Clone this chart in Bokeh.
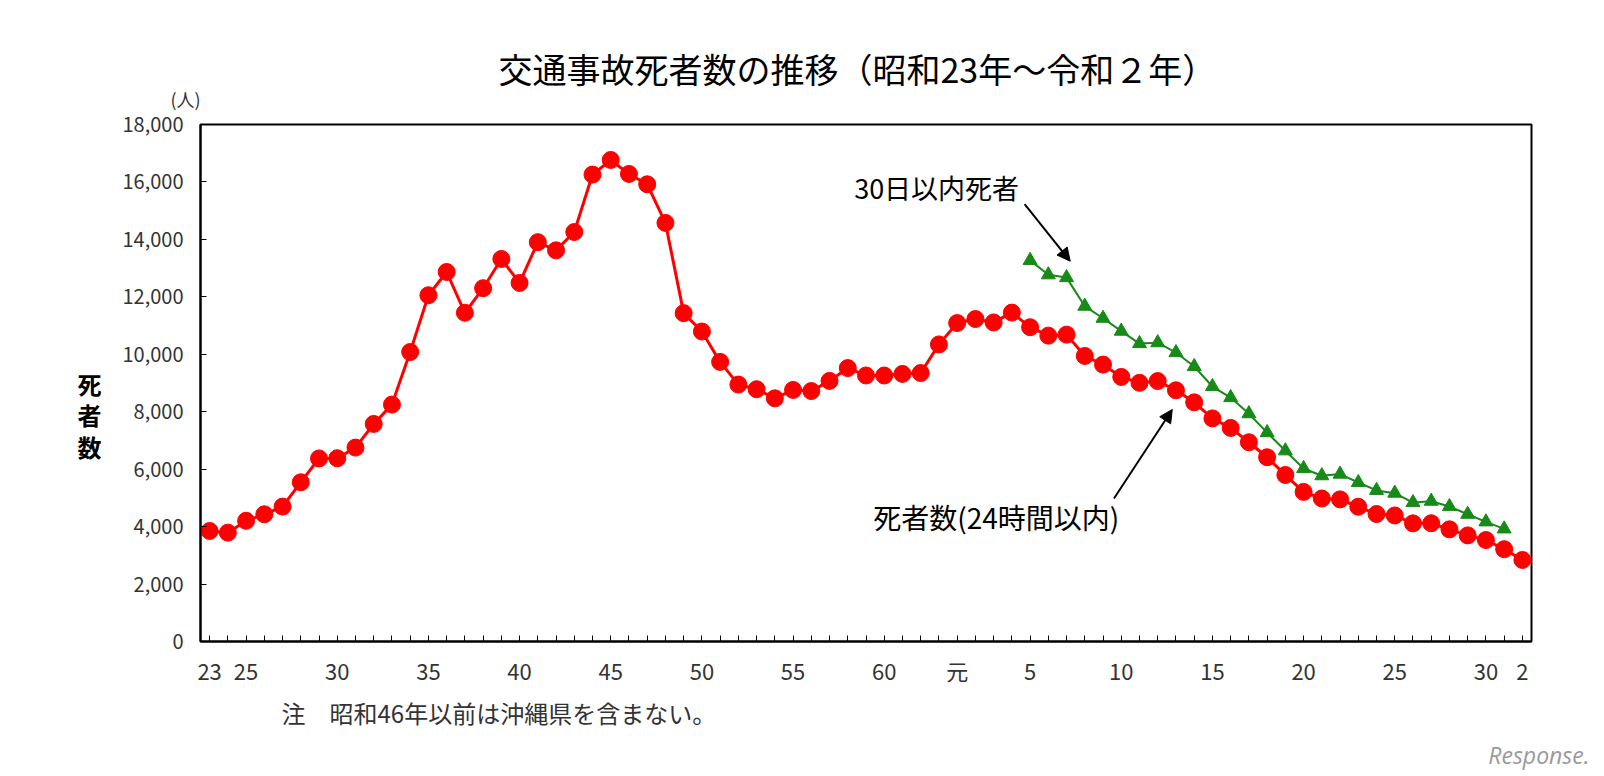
from bokeh.plotting import figure
from bokeh.models import (Range1d, FixedTicker, Label, Arrow, NormalHead, ColumnDataSource, Title)
from bokeh.embed import file_html
from bokeh.resources import INLINE

# Years: Showa 23 (1948) .. Reiwa 2 (2020)
years = list(range(1948, 2021))
deaths_24h = [3848, 3790, 4202, 4429, 4696, 5544, 6374, 6379, 6751, 7575,
              8248, 10079, 12055, 12865, 11445, 12301, 13318, 12484, 13904, 13618,
              14256, 16257, 16765, 16278, 15918, 14574, 11432, 10792, 9734, 8945,
              8783, 8466, 8760, 8719, 9073, 9520, 9262, 9261, 9317, 9347,
              10344, 11086, 11227, 11109, 11451, 10942, 10649, 10684, 9942, 9640,
              9211, 9006, 9066, 8747, 8326, 7768, 7436, 6937, 6415, 5796,
              5209, 4979, 4948, 4691, 4438, 4388, 4113, 4117, 3904, 3694,
              3532, 3215, 2839]
years_30d = list(range(1993, 2020))
deaths_30d = [13269, 12768, 12670, 11674, 11254, 10805, 10372, 10403, 10060, 9575,
              8877, 8492, 7931, 7272, 6639, 6023, 5772, 5828, 5535, 5261,
              5165, 4838, 4885, 4698, 4431, 4166, 3920]

tick_labels = {1948: "23", 1950: "25", 1955: "30", 1960: "35", 1965: "40",
               1970: "45", 1975: "50", 1980: "55", 1985: "60", 1989: "元",
               1993: "5", 1998: "10", 2003: "15", 2008: "20", 2013: "25",
               2018: "30", 2020: "2"}
y_ticks = list(range(0, 18001, 2000))

title_text = "交通事故死者数の推移（昭和23年～令和２年）"
unit_text = "(人)"
y_title = "死者数"
note_text = "注　昭和46年以前は沖縄県を含まない。"
credit_text = "Response."

FONT = "Noto Sans CJK JP"

W, H = 1600, 776
p = figure(width=W, height=H, output_backend="svg", toolbar_location=None,
           x_range=Range1d(1947.5, 2020.5), y_range=Range1d(0, 18000),
           min_border_left=200, min_border_right=W - 1531, min_border_top=124,
           min_border_bottom=H - 641)
p.xgrid.visible = False
p.ygrid.visible = False
p.outline_line_color = "black"
p.outline_line_width = 2
p.background_fill_color = "white"
p.border_fill_color = "white"

# main title (outermost) and the unit label "(人)" (closest to the frame)
p.title.text = title_text
p.title.text_font = FONT
p.title.text_font_size = "34px"
p.title.text_font_style = "normal"
p.title.text_color = "black"
p.title.align = "left"
p.title.offset = 298
p.title.standoff = -44

p.add_layout(Title(text=unit_text, text_font=FONT, text_font_size="18px",
                   text_font_style="normal", text_color="#333333", align="left",
                   offset=-30, standoff=26), "above")

# axes
p.xaxis.ticker = FixedTicker(ticks=years)
p.xaxis.major_label_overrides = {y: tick_labels.get(y, "") for y in years}
p.xaxis.major_tick_in = 6
p.xaxis.major_tick_out = 0
p.xaxis.minor_tick_line_color = None
p.xaxis.axis_line_width = 2
p.xaxis.axis_line_color = "black"
p.xaxis.major_tick_line_color = "black"
p.xaxis.major_label_text_font = FONT
p.xaxis.major_label_text_font_size = "22px"
p.xaxis.major_label_text_color = "#333333"
p.xaxis.major_label_standoff = 12

p.yaxis.ticker = FixedTicker(ticks=y_ticks)
p.yaxis.major_label_overrides = {v: f"{v:,}" for v in y_ticks}
p.yaxis.major_tick_in = 6
p.yaxis.major_tick_out = 0
p.yaxis.minor_tick_line_color = None
p.yaxis.axis_line_width = 2
p.yaxis.axis_line_color = "black"
p.yaxis.major_tick_line_color = "black"
p.yaxis.major_label_text_font = FONT
p.yaxis.major_label_text_font_size = "20px"
p.yaxis.major_label_text_color = "#333333"
p.yaxis.major_label_standoff = 17

p.yaxis.axis_label = "\n\n" + "\n".join(y_title)
p.yaxis.axis_label_orientation = "horizontal"
p.yaxis.axis_label_text_font = FONT
p.yaxis.axis_label_text_font_size = "24px"
p.yaxis.axis_label_text_font_style = "bold"
p.yaxis.axis_label_text_color = "black"
p.yaxis.axis_label_text_line_height = 0.91
p.yaxis.axis_label_standoff = 18

# footnote and credit below the x axis
p.add_layout(Title(text=note_text, text_font=FONT, text_font_size="24px",
                   text_font_style="normal", text_color="#333333", align="left",
                   offset=81, standoff=9), "below")
p.add_layout(Title(text=credit_text, text_font="Open Sans", text_font_size="23px",
                   text_font_style="italic", text_color="#9a9a9a", align="right",
                   offset=-58, standoff=4), "below")

# series
red = ColumnDataSource(dict(x=years, y=deaths_24h))
green = ColumnDataSource(dict(x=years_30d, y=deaths_30d))
p.line("x", "y", source=red, line_color="#ff0000", line_width=3)
p.scatter("x", "y", source=red, marker="circle", size=17, fill_color="#ff0000",
          line_color="#ff0000")
p.line("x", "y", source=green, line_color="#178a17", line_width=2)
p.scatter("x", "y", source=green, marker="triangle", size=14, fill_color="#178a17",
          line_color="#178a17")

# in-plot annotations
p.add_layout(Label(x=1983.35, y=15800, text="30日以内死者", text_font=FONT,
                   text_font_size="27px", text_align="left", text_baseline="middle",
                   text_color="black"))
p.add_layout(Label(x=1984.4, y=4340, text="死者数(24時間以内)", text_font=FONT,
                   text_font_size="28px", text_align="left", text_baseline="middle",
                   text_color="black"))
p.add_layout(Arrow(x_start=1992.7, y_start=15230, x_end=1995.2, y_end=13240,
                   line_width=2, line_color="black",
                   end=NormalHead(size=13, fill_color="black", line_color="black")))
p.add_layout(Arrow(x_start=1997.6, y_start=4980, x_end=2000.8, y_end=8080,
                   line_width=2, line_color="black",
                   end=NormalHead(size=13, fill_color="black", line_color="black")))

open("out.html", "w").write(file_html(p, INLINE))
